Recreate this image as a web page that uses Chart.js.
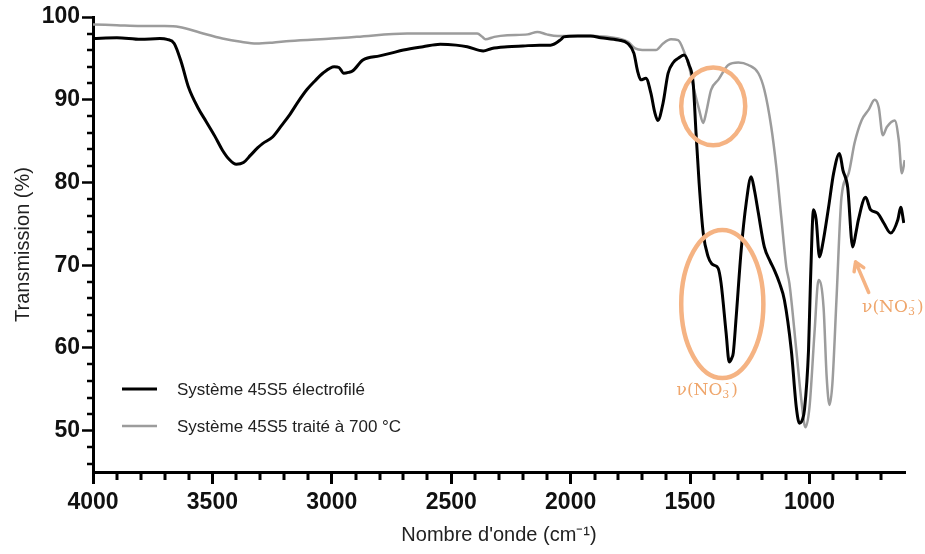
<!DOCTYPE html>
<html>
<head>
<meta charset="utf-8">
<script src="https://cdn.jsdelivr.net/npm/chart.js@4.4.1/dist/chart.umd.min.js"></script>
<style>
  html, body { margin: 0; padding: 0; background: #fff; }
</style>
</head>
<body>
<canvas id="ftir" width="925" height="554"></canvas>
<script>
// wavenumber (cm-1) / transmission (%)
const wnBlack = [4000, 3900, 3800, 3720, 3690, 3660, 3630, 3600, 3560, 3527, 3490, 3458, 3430, 3400, 3370, 3340, 3310, 3290, 3248, 3210,
  3176, 3140, 3105, 3070, 3038, 2990, 2970, 2950, 2930, 2912, 2870, 2800, 2756, 2700, 2618, 2546, 2480, 2433, 2366, 2330,
  2265, 2200, 2130, 2084, 2040, 2029, 1970, 1916, 1874, 1800, 1761, 1735, 1720, 1706, 1685, 1664, 1648, 1635, 1613, 1592,
  1570, 1550, 1525, 1504, 1487, 1475, 1462, 1445, 1424, 1410, 1399, 1382, 1370, 1349, 1336, 1325, 1319, 1307, 1286, 1265,
  1244, 1230, 1214, 1189, 1165, 1147, 1125, 1105, 1076, 1055, 1042, 1030, 1021, 1004, 996, 983, 972, 958, 945, 920,
  899, 874, 860, 840, 819, 805, 795, 765, 744, 715, 689, 660, 630, 618, 605];
const tBlack = [97.4, 97.5, 97.3, 97.4, 97.3, 96.8, 94.5, 91.5, 89.0, 87.4, 85.6, 83.9, 82.8, 82.2, 82.4, 83.3, 84.2, 84.7, 85.5, 86.9,
  88.2, 89.8, 91.2, 92.3, 93.2, 94.0, 93.9, 93.2, 93.3, 93.5, 94.8, 95.3, 95.6, 96.0, 96.4, 96.7, 96.6, 96.4, 95.9, 96.2,
  96.4, 96.5, 96.6, 96.6, 97.3, 97.6, 97.7, 97.7, 97.5, 97.2, 96.8, 95.6, 93.5, 92.4, 92.6, 90.8, 88.5, 87.5, 89.6, 93.2,
  94.5, 95.0, 95.4, 94.2, 92.0, 86.0, 79.9, 73.9, 71.0, 70.2, 70.0, 69.6, 67.8, 61.8, 58.3, 58.8, 59.4, 63.7, 71.8, 77.5,
  80.7, 79.0, 76.3, 72.2, 70.5, 69.4, 67.8, 65.8, 59.7, 52.8, 50.9, 51.3, 52.5, 59.7, 67.8, 76.7, 75.5, 71.0, 72.5, 77.0,
  81.1, 83.5, 81.5, 79.4, 72.2, 74.0, 75.5, 78.2, 76.7, 76.3, 75.1, 73.9, 75.5, 77.0, 75.1];

const wnGray = [4000, 3900, 3800, 3700, 3639, 3550, 3458, 3380, 3315, 3250, 3176, 3000, 2895, 2685, 2500, 2391, 2370, 2357, 2320, 2265,
  2180, 2139, 2100, 2055, 1980, 1900, 1800, 1760, 1730, 1700, 1677, 1643, 1613, 1580, 1550, 1525, 1504, 1483, 1462, 1445,
  1433, 1412, 1382, 1340, 1298, 1256, 1214, 1189, 1160, 1139, 1118, 1097, 1084, 1055, 1034, 1017, 1000, 979, 962, 941,
  928, 916, 904, 887, 866, 836, 811, 782, 752, 727, 710, 693, 676, 643, 626, 613, 601];
const tGray = [99.1, 99.0, 98.9, 98.9, 98.8, 98.1, 97.4, 97.0, 96.8, 96.9, 97.1, 97.4, 97.6, 98.0, 98.0, 98.0, 97.6, 97.3, 97.6, 97.8,
  97.9, 98.2, 97.9, 97.7, 97.7, 97.7, 97.4, 97.0, 96.2, 96.0, 96.0, 96.0, 96.8, 97.3, 97.2, 95.8, 94.0, 91.2, 88.8, 87.2,
  88.4, 91.2, 92.4, 94.2, 94.5, 94.2, 93.2, 91.2, 86.7, 81.9, 75.8, 69.8, 67.8, 59.7, 53.7, 50.4, 52.8, 61.8, 68.2, 64.9,
  56.5, 53.1, 55.7, 65.8, 78.2, 81.1, 84.8, 87.5, 88.8, 90.0, 89.1, 85.7, 86.7, 87.5, 85.1, 81.1, 82.7];

const xTicks = [4000, 3500, 3000, 2500, 2000, 1500, 1000];
const yTicks = [50, 60, 70, 80, 90, 100];
const seriesLabels = ['Système 45S5 électrofilé', 'Système 45S5 traité à 700 °C'];

const ORANGE = '#F5B383';
const ORANGE_TXT = '#EFA66C';

// draws the no3 label: ν(NO3-) with sub/superscript, centred on (cx, cy)
function drawNitrate(ctx, cx, cy) {
  const big = '17px "DejaVu Serif"', small = '11px "DejaVu Serif"';
  ctx.font = big;
  const w1 = ctx.measureText('ν(NO').width;
  const w3 = ctx.measureText(')').width;
  ctx.font = small;
  const w2 = ctx.measureText('3').width + 2;
  let x = cx - (w1 + w2 + w3) / 2;
  ctx.fillStyle = ORANGE_TXT;
  ctx.textBaseline = 'middle';
  ctx.textAlign = 'left';
  ctx.font = big;
  ctx.fillText('ν(NO', x, cy);
  x += w1;
  ctx.font = small;
  ctx.fillText('3', x, cy + 5);
  ctx.fillText('-', x + 3, cy - 6);
  x += w2;
  ctx.font = big;
  ctx.fillText(')', x, cy);
}

const decor = {
  id: 'decor',
  afterDraw(chart) {
    const ctx = chart.ctx;
    const xs = chart.scales.x, ys = chart.scales.y;
    const left = chart.chartArea.left;
    const bottom = chart.chartArea.bottom;
    ctx.save();

    // minor tick marks on x
    ctx.strokeStyle = '#000';
    ctx.lineWidth = 3;
    ctx.lineCap = 'butt';
    for (let v = 700; v < 4000; v += 100) {
      if (v % 500 === 0) continue;
      const px = Math.round(xs.getPixelForValue(v));
      ctx.beginPath();
      ctx.moveTo(px, bottom);
      ctx.lineTo(px, bottom + 8);
      ctx.stroke();
    }
    // minor tick marks on y
    ctx.lineWidth = 2.5;
    for (let v = 46; v < 100; v += 2) {
      if (v % 10 === 0) continue;
      const py = Math.round(ys.getPixelForValue(v));
      ctx.beginPath();
      ctx.moveTo(left, py);
      ctx.lineTo(left - 6, py);
      ctx.stroke();
    }

    // orange ellipses around the nitrate bands
    ctx.strokeStyle = ORANGE;
    ctx.lineWidth = 4.5;
    const ell = (x, y, rx, ry) => {
      const cx = xs.getPixelForValue(x), cy = ys.getPixelForValue(y);
      const prx = Math.abs(xs.getPixelForValue(x + rx) - cx);
      const pry = Math.abs(ys.getPixelForValue(y + ry) - cy);
      ctx.beginPath();
      ctx.ellipse(cx, cy, prx, pry, 0, 0, Math.PI * 2);
      ctx.stroke();
    };
    ell(1403, 89.2, 134, 4.7);
    ell(1365, 65.3, 172, 8.95);

    // arrow pointing to the 815 band
    const tx = xs.getPixelForValue(752), ty = ys.getPixelForValue(66.7);
    const hx = xs.getPixelForValue(807), hy = ys.getPixelForValue(70.4);
    const ang = Math.atan2(hy - ty, hx - tx);
    ctx.lineWidth = 3.5;
    ctx.lineCap = 'round';
    ctx.beginPath();
    ctx.moveTo(tx, ty);
    ctx.lineTo(hx, hy);
    ctx.moveTo(hx, hy);
    ctx.lineTo(hx - 10 * Math.cos(ang - 0.55), hy - 10 * Math.sin(ang - 0.55));
    ctx.moveTo(hx, hy);
    ctx.lineTo(hx - 10 * Math.cos(ang + 0.55), hy - 10 * Math.sin(ang + 0.55));
    ctx.stroke();

    drawNitrate(ctx, xs.getPixelForValue(1428), ys.getPixelForValue(54.9));
    drawNitrate(ctx, xs.getPixelForValue(651), ys.getPixelForValue(64.9));

    // legend inside the plot
    const items = chart.data.datasets;
    const lx = 122, ly = [389, 426];
    items.forEach((ds, i) => {
      ctx.strokeStyle = ds.borderColor;
      ctx.lineWidth = ds.borderWidth;
      ctx.lineCap = 'butt';
      ctx.beginPath();
      ctx.moveTo(lx, ly[i]);
      ctx.lineTo(lx + 35, ly[i]);
      ctx.stroke();
      ctx.fillStyle = '#222';
      ctx.font = '17px "Liberation Sans"';
      ctx.textAlign = 'left';
      ctx.textBaseline = 'middle';
      ctx.fillText(ds.label, lx + 55, ly[i] + 1);
    });
    ctx.restore();
  }
};

new Chart(document.getElementById('ftir'), {
  type: 'line',
  data: {
    datasets: [
      {
        label: seriesLabels[0],
        data: wnBlack.map((x, i) => ({ x: x, y: tBlack[i] })),
        borderColor: '#000',
        borderWidth: 3,
        pointRadius: 0,
        cubicInterpolationMode: 'monotone',
        order: 0
      },
      {
        label: seriesLabels[1],
        data: wnGray.map((x, i) => ({ x: x, y: tGray[i] })),
        borderColor: '#9c9c9c',
        borderWidth: 2.5,
        pointRadius: 0,
        cubicInterpolationMode: 'monotone',
        order: 1
      }
    ]
  },
  options: {
    responsive: false,
    animation: false,
    devicePixelRatio: 1,
    layout: { padding: { top: 17, right: 20, left: 0, bottom: 0 } },
    plugins: { legend: { display: false }, tooltip: { enabled: false } },
    scales: {
      x: {
        type: 'linear',
        reverse: true,
        min: 600,
        max: 4000,
        afterFit: s => { s.height = 82; },
        afterBuildTicks: s => { s.ticks = xTicks.map(v => ({ value: v })); },
        grid: { display: true, drawOnChartArea: false, drawTicks: true, tickLength: 12, tickWidth: 3, tickColor: '#000' },
        border: { display: true, color: '#000', width: 3 },
        ticks: {
          autoSkip: false,
          maxRotation: 0,
          padding: 5,
          color: '#111',
          callback: v => String(v),
          font: { family: 'Liberation Sans', size: 23, weight: 'bold' }
        },
        title: {
          display: true,
          text: "Nombre d'onde (cm⁻¹)",
          color: '#222',
          font: { family: 'Liberation Sans', size: 20 },
          padding: { top: 0, bottom: 7 }
        }
      },
      y: {
        min: 45,
        max: 100,
        afterFit: s => { s.width = 93; },
        afterBuildTicks: s => { s.ticks = yTicks.map(v => ({ value: v })); },
        grid: { display: true, drawOnChartArea: false, drawTicks: true, tickLength: 11, tickWidth: 2.5, tickColor: '#000' },
        border: { display: true, color: '#000', width: 3 },
        ticks: {
          padding: 2,
          color: '#111',
          callback: v => String(v),
          font: { family: 'Liberation Sans', size: 23, weight: 'bold' }
        },
        title: {
          display: true,
          text: 'Transmission (%)',
          color: '#222',
          font: { family: 'Liberation Sans', size: 20 },
          padding: { top: 11, bottom: 0 }
        }
      }
    }
  },
  plugins: [decor]
});
</script>
</body>
</html>
